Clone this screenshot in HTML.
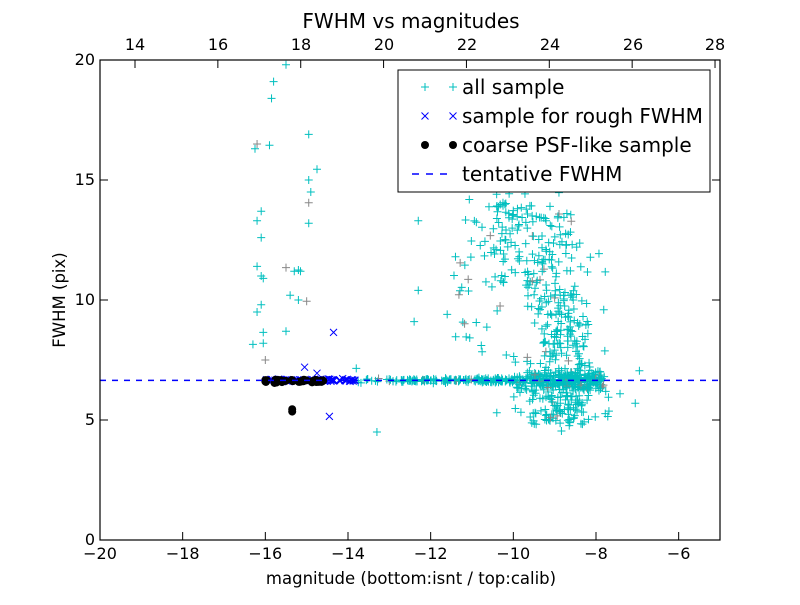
<!DOCTYPE html>
<html><head><meta charset="utf-8"><style>
body{margin:0;background:#fff}
svg text{font-family:"DejaVu Sans","Liberation Sans",sans-serif}
</style></head><body>
<svg id="s" width="800" height="600" xmlns="http://www.w3.org/2000/svg">
<rect width="800" height="600" fill="#fff"/>
<g id="pts"></g>
<line x1="100" y1="380.4" x2="720" y2="380.4" stroke="#0000ff" stroke-width="1.5" stroke-dasharray="6,6"/>
<rect x="100" y="60" width="620" height="480" fill="none" stroke="#000" stroke-width="1.2"/>
<g id="ticks" stroke="#000" stroke-width="1"></g>
<g font-size="16" text-anchor="middle" fill="#000">
<text x="100" y="559">−20</text><text x="182.7" y="559">−18</text><text x="265.3" y="559">−16</text><text x="348" y="559">−14</text><text x="430.7" y="559">−12</text><text x="513.3" y="559">−10</text><text x="596" y="559">−8</text><text x="678.7" y="559">−6</text>
<text x="135" y="50">14</text><text x="218" y="50">16</text><text x="301" y="50">18</text><text x="384" y="50">20</text><text x="467" y="50">22</text><text x="550" y="50">24</text><text x="633" y="50">26</text><text x="715" y="50">28</text>
</g>
<g font-size="16" text-anchor="end">
<text x="95" y="545">0</text><text x="95" y="425">5</text><text x="95" y="305">10</text><text x="95" y="185">15</text><text x="95" y="65">20</text>
</g>
<text x="411" y="28" font-size="20" text-anchor="middle">FWHM vs magnitudes</text>
<text x="411" y="584" font-size="16.5" text-anchor="middle">magnitude (bottom:isnt / top:calib)</text>
<text transform="translate(65,300) rotate(-90)" font-size="16.5" text-anchor="middle">FWHM (pix)</text>
<rect x="398" y="70" width="312" height="122" fill="#fff" stroke="#000" stroke-width="1"/>
<g id="leg"></g>
<g font-size="20">
<text x="462" y="94">all sample</text>
<text x="462" y="123">sample for rough FWHM</text>
<text x="462" y="152">coarse PSF-like sample</text>
<text x="462" y="181">tentative FWHM</text>
</g>
<line x1="412" y1="174" x2="450" y2="174" stroke="#0000ff" stroke-width="1.5" stroke-dasharray="7,7"/>
</svg>
<script>
var seed=12345;function r(){seed=(seed*1103515245+12345)%2147483648;return seed/2147483648;}
function n(){return (r()+r()+r()+r()-2)*1.7;}
var out='';
function X(m){return 100+(m+20)*41.333;}function Y(f){return 540-f*24;}
function plus(x,y,c){out+='<path d="M'+(x-4)+' '+y+'h8M'+x+' '+(y-4)+'v8" stroke="'+c+'" stroke-width="1"/>';}
function cross(x,y){out+='<path d="M'+(x-3.5)+' '+(y-3.5)+'l7 7M'+(x-3.5)+' '+(y+3.5)+'l7 -7" stroke="#0000ff" stroke-width="1"/>';}
function dot(x,y){out+='<circle cx="'+x+'" cy="'+y+'" r="4" fill="#000"/>';}
var C='#00bfbf',G='#888';
for(var i=0;i<420;i++){var m=-14+Math.pow(r(),0.55)*6.2;var sd=m>-10?0.3:0.08;plus(X(m),Y(6.65+n()*sd*0.6),r()<0.04?G:C);}
for(var i=0;i<450;i++){var f=5.0+Math.pow(r(),1.5)*9.3+n()*0.2;var mc=f<9.5?-8.8:-8.8-(f-9.5)*0.22;var sd=f<7.5?0.5:(f<10.5?0.35:0.7);var m=mc+n()*sd;plus(X(m),Y(f),r()<0.05?G:C);}
for(var i=0;i<60;i++){plus(X(-11.5+r()*2.7),Y(7.5+r()*6.3),r()<0.15?G:C);}
var L=[[-15.5,19.8],[-15.8,19.1],[-15.85,18.4],[-16.2,16.5],[-16.25,16.3],[-15.9,16.45],[-14.95,16.9],[-14.75,15.45],[-14.95,15],[-14.9,14.5],[-14.95,14.05],[-14.95,13.2],[-16.1,13.7],[-16.2,13.3],[-16.1,12.6],[-15.3,11.2],[-15.2,11.25],[-15.5,11.35],[-15.15,11.2],[-16.1,11.0],[-16.05,10.9],[-16.2,11.4],[-15.4,10.2],[-15.2,10],[-15.0,9.95],[-16.1,9.8],[-16.2,9.5],[-16.05,8.65],[-15.5,8.7],[-16.05,8.2],[-16.3,8.15],[-16.0,7.5],[-13.3,4.5],[-12.3,10.4],[-12.3,13.3],[-13.8,7.15],[-11.4,11.8],[-10.4,5.3],[-9.1,5.1],[-6.95,7.05],[-7.05,5.7],[-11.6,9.4],[-12.4,9.1]];
L.forEach(function(p,i){plus(X(p[0]),Y(p[1]),i%7==3?G:C);});
for(var i=0;i<90;i++){cross(X(-16+r()*2.2),Y(6.65+n()*0.03));}
[[-14.35,8.65],[-15.05,7.2],[-14.75,6.95],[-14.45,5.15]].forEach(function(p){cross(X(p[0]),Y(p[1]));});
for(var i=0;i<40;i++){dot(X(-16.05+r()*1.45),Y(6.62+n()*0.03));}
dot(X(-15.35),Y(5.45));dot(X(-15.35),Y(5.35));
document.getElementById('pts').innerHTML=out;
var t='';
for(var v=-20;v<=-5;v+=2){t+='<path d="M'+X(v)+' 540v-8"/>';}
for(var v=14;v<=28;v+=2){var x=135+(v-14)*41.43;t+='<path d="M'+x+' 60v8"/>';}
for(var v=0;v<=20;v+=5){var y=Y(v);t+='<path d="M100 '+y+'h8M720 '+y+'h-8"/>';}
document.getElementById('ticks').innerHTML=t;
out='';
plus(425,87,C);plus(453,87,C);cross(425,116);cross(453,116);dot(425,145);dot(453,145);
document.getElementById('leg').innerHTML=out;
</script>
</body></html>
